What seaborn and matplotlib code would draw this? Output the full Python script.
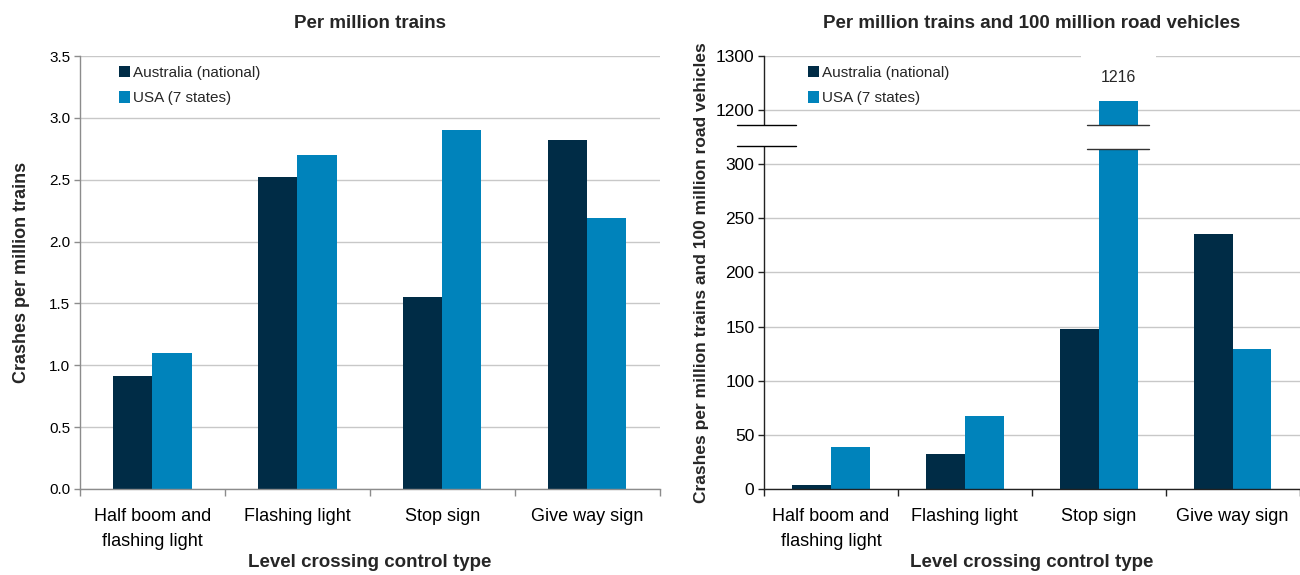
import numpy as np
import pandas as pd
import matplotlib.pyplot as plt
import matplotlib.transforms as mtransforms
import seaborn as sns
from matplotlib.patches import Rectangle
from matplotlib.ticker import FixedLocator, FuncFormatter, MultipleLocator

# data
categories = ['Half boom and\nflashing light', 'Flashing light', 'Stop sign', 'Give way sign']
series = ['Australia (national)', 'USA (7 states)']
per_train_aus = [0.91, 2.52, 1.55, 2.82]
per_train_usa = [1.10, 2.70, 2.90, 2.19]
per_vehicle_aus = [4, 32, 148, 236]
per_vehicle_usa = [39, 67, 1216, 129]
vehicle_ticks = [0, 50, 100, 150, 200, 250, 300, 1200, 1300]
colours = ['#002c46', '#0083bb']


def long_frame(aus, usa):
    return pd.DataFrame({
        'type': categories * 2,
        'country': [series[0]] * len(aus) + [series[1]] * len(usa),
        'value': list(aus) + list(usa),
    })


# broken axis: 300..1150 squeezed into a small gap, upper part at half scale
def fwd(v):
    v = np.asarray(v, dtype=float)
    mid = 300 + (v - 300) * 25 / 850
    top = 325 + (v - 1150) / 2
    return np.where(v <= 300, v, np.where(v >= 1150, top, mid))


def inv(u):
    u = np.asarray(u, dtype=float)
    mid = 300 + (u - 300) * 850 / 25
    top = 1150 + (u - 325) * 2
    return np.where(u <= 300, u, np.where(u >= 325, top, mid))


sns.set_theme(style='white')
plt.rcParams['font.family'] = ['Liberation Sans', 'DejaVu Sans']

fig = plt.figure(figsize=(13, 5.75), dpi=100)
ax1 = fig.add_axes([0.0615, 0.1496, 0.446, 0.753])
ax2 = fig.add_axes([0.5877, 0.1496, 0.412, 0.753])


def style_axes(ax, spine_col, ylab_size):
    ax.set_axisbelow(True)
    ax.yaxis.grid(True, color='#c8c8c8', lw=1)
    ax.xaxis.grid(False)
    for s in ['top', 'right']:
        ax.spines[s].set_visible(False)
    for s in ['left', 'bottom']:
        ax.spines[s].set_color(spine_col)
        ax.spines[s].set_linewidth(1)
    ax.set_xlim(-0.5, 3.5)
    ax.set_xticks(np.arange(-0.5, 4, 1), minor=True)
    ax.tick_params(axis='x', which='major', length=0, pad=14, labelsize=13,
                   colors='black')
    ax.tick_params(axis='x', which='minor', length=5, width=1, color=spine_col,
                   direction='out', bottom=True)
    ax.tick_params(axis='y', length=4, width=1, color=spine_col, left=True,
                   labelsize=ylab_size, labelcolor='black', pad=3)
    for lbl in ax.get_xticklabels():
        lbl.set_linespacing(1.6)
    ax.set_xlabel('Level crossing control type', fontsize=13.5, fontweight='bold',
                  labelpad=3)


# left chart
sns.barplot(data=long_frame(per_train_aus, per_train_usa), x='type', y='value',
            hue='country', palette=colours, saturation=1, width=0.54, gap=0,
            errorbar=None, edgecolor='none', zorder=2, ax=ax1)
ax1.set_ylim(0, 3.5)
ax1.yaxis.set_major_locator(MultipleLocator(0.5))
ax1.yaxis.set_major_formatter(FuncFormatter(lambda v, p: f'{v:.1f}'))
style_axes(ax1, '#8c8c8c', 11)
ax1.set_ylabel('Crashes per million trains', fontsize=13, fontweight='bold', labelpad=14)
ax1.set_title('Per million trains', fontsize=13.5, fontweight='bold', pad=20)
ax1.legend(loc='upper left', bbox_to_anchor=(0.05, 1.0), frameon=False,
           fontsize=11, handlelength=0.75, handleheight=0.75, handletextpad=0.2,
           labelspacing=0.75, borderaxespad=0.25)

# right chart
sns.barplot(data=long_frame(per_vehicle_aus, per_vehicle_usa), x='type', y='value',
            hue='country', palette=colours, saturation=1, width=0.58, gap=0,
            errorbar=None, edgecolor='none', zorder=2, ax=ax2)
ax2.set_yscale('function', functions=(fwd, inv))
ax2.set_ylim(0, 1300)
ax2.yaxis.set_major_locator(FixedLocator(vehicle_ticks))
ax2.yaxis.set_minor_locator(FixedLocator([]))
ax2.yaxis.set_major_formatter(FuncFormatter(lambda v, p: f'{v:.0f}'))
style_axes(ax2, '#222222', 12.5)
ax2.set_ylabel('Crashes per million trains and 100 million road vehicles',
               fontsize=12.5, fontweight='bold', labelpad=5)
ax2.set_title('Per million trains and 100 million road vehicles', fontsize=13.5,
              fontweight='bold', pad=20)
ax2.legend(loc='upper left', bbox_to_anchor=(0.063, 1.0), frameon=False,
           fontsize=11, handlelength=0.75, handleheight=0.75, handletextpad=0.2,
           labelspacing=0.75, borderaxespad=0.25)

# break marks
lo, hi = 0.792, 0.84
ax2.add_patch(Rectangle((-0.02, lo), 1.02, hi - lo, transform=ax2.transAxes,
                        facecolor='white', edgecolor='none', zorder=4, clip_on=False))
for yy in (lo, hi):
    ax2.plot([-0.05, 0.06], [yy, yy], transform=ax2.transAxes, color='black',
             lw=1, clip_on=False, zorder=5)

tall = max(ax2.containers[1], key=lambda p: p.get_height())
blend = mtransforms.blended_transform_factory(ax2.transData, ax2.transAxes)
bx0 = tall.get_x() - 0.3 * tall.get_width()
bx1 = tall.get_x() + 1.3 * tall.get_width()
ax2.add_patch(Rectangle((tall.get_x(), lo - 0.007), tall.get_width(), hi - lo + 0.007,
                        transform=blend, facecolor='white', edgecolor='none', zorder=4))
for yy in (lo - 0.007, hi):
    ax2.plot([bx0, bx1], [yy, yy], transform=blend, color='#333333', lw=1,
             clip_on=False, zorder=5)

ax2.annotate(f'{tall.get_height():.0f}',
             xy=(tall.get_x() + tall.get_width() / 2, tall.get_height()),
             xytext=(0, 17), textcoords='offset points', ha='center', va='center',
             fontsize=11.5, zorder=1.5,
             bbox=dict(boxstyle='square,pad=1.25', facecolor='white', edgecolor='none'))

fig.savefig('out.png', dpi=100)
